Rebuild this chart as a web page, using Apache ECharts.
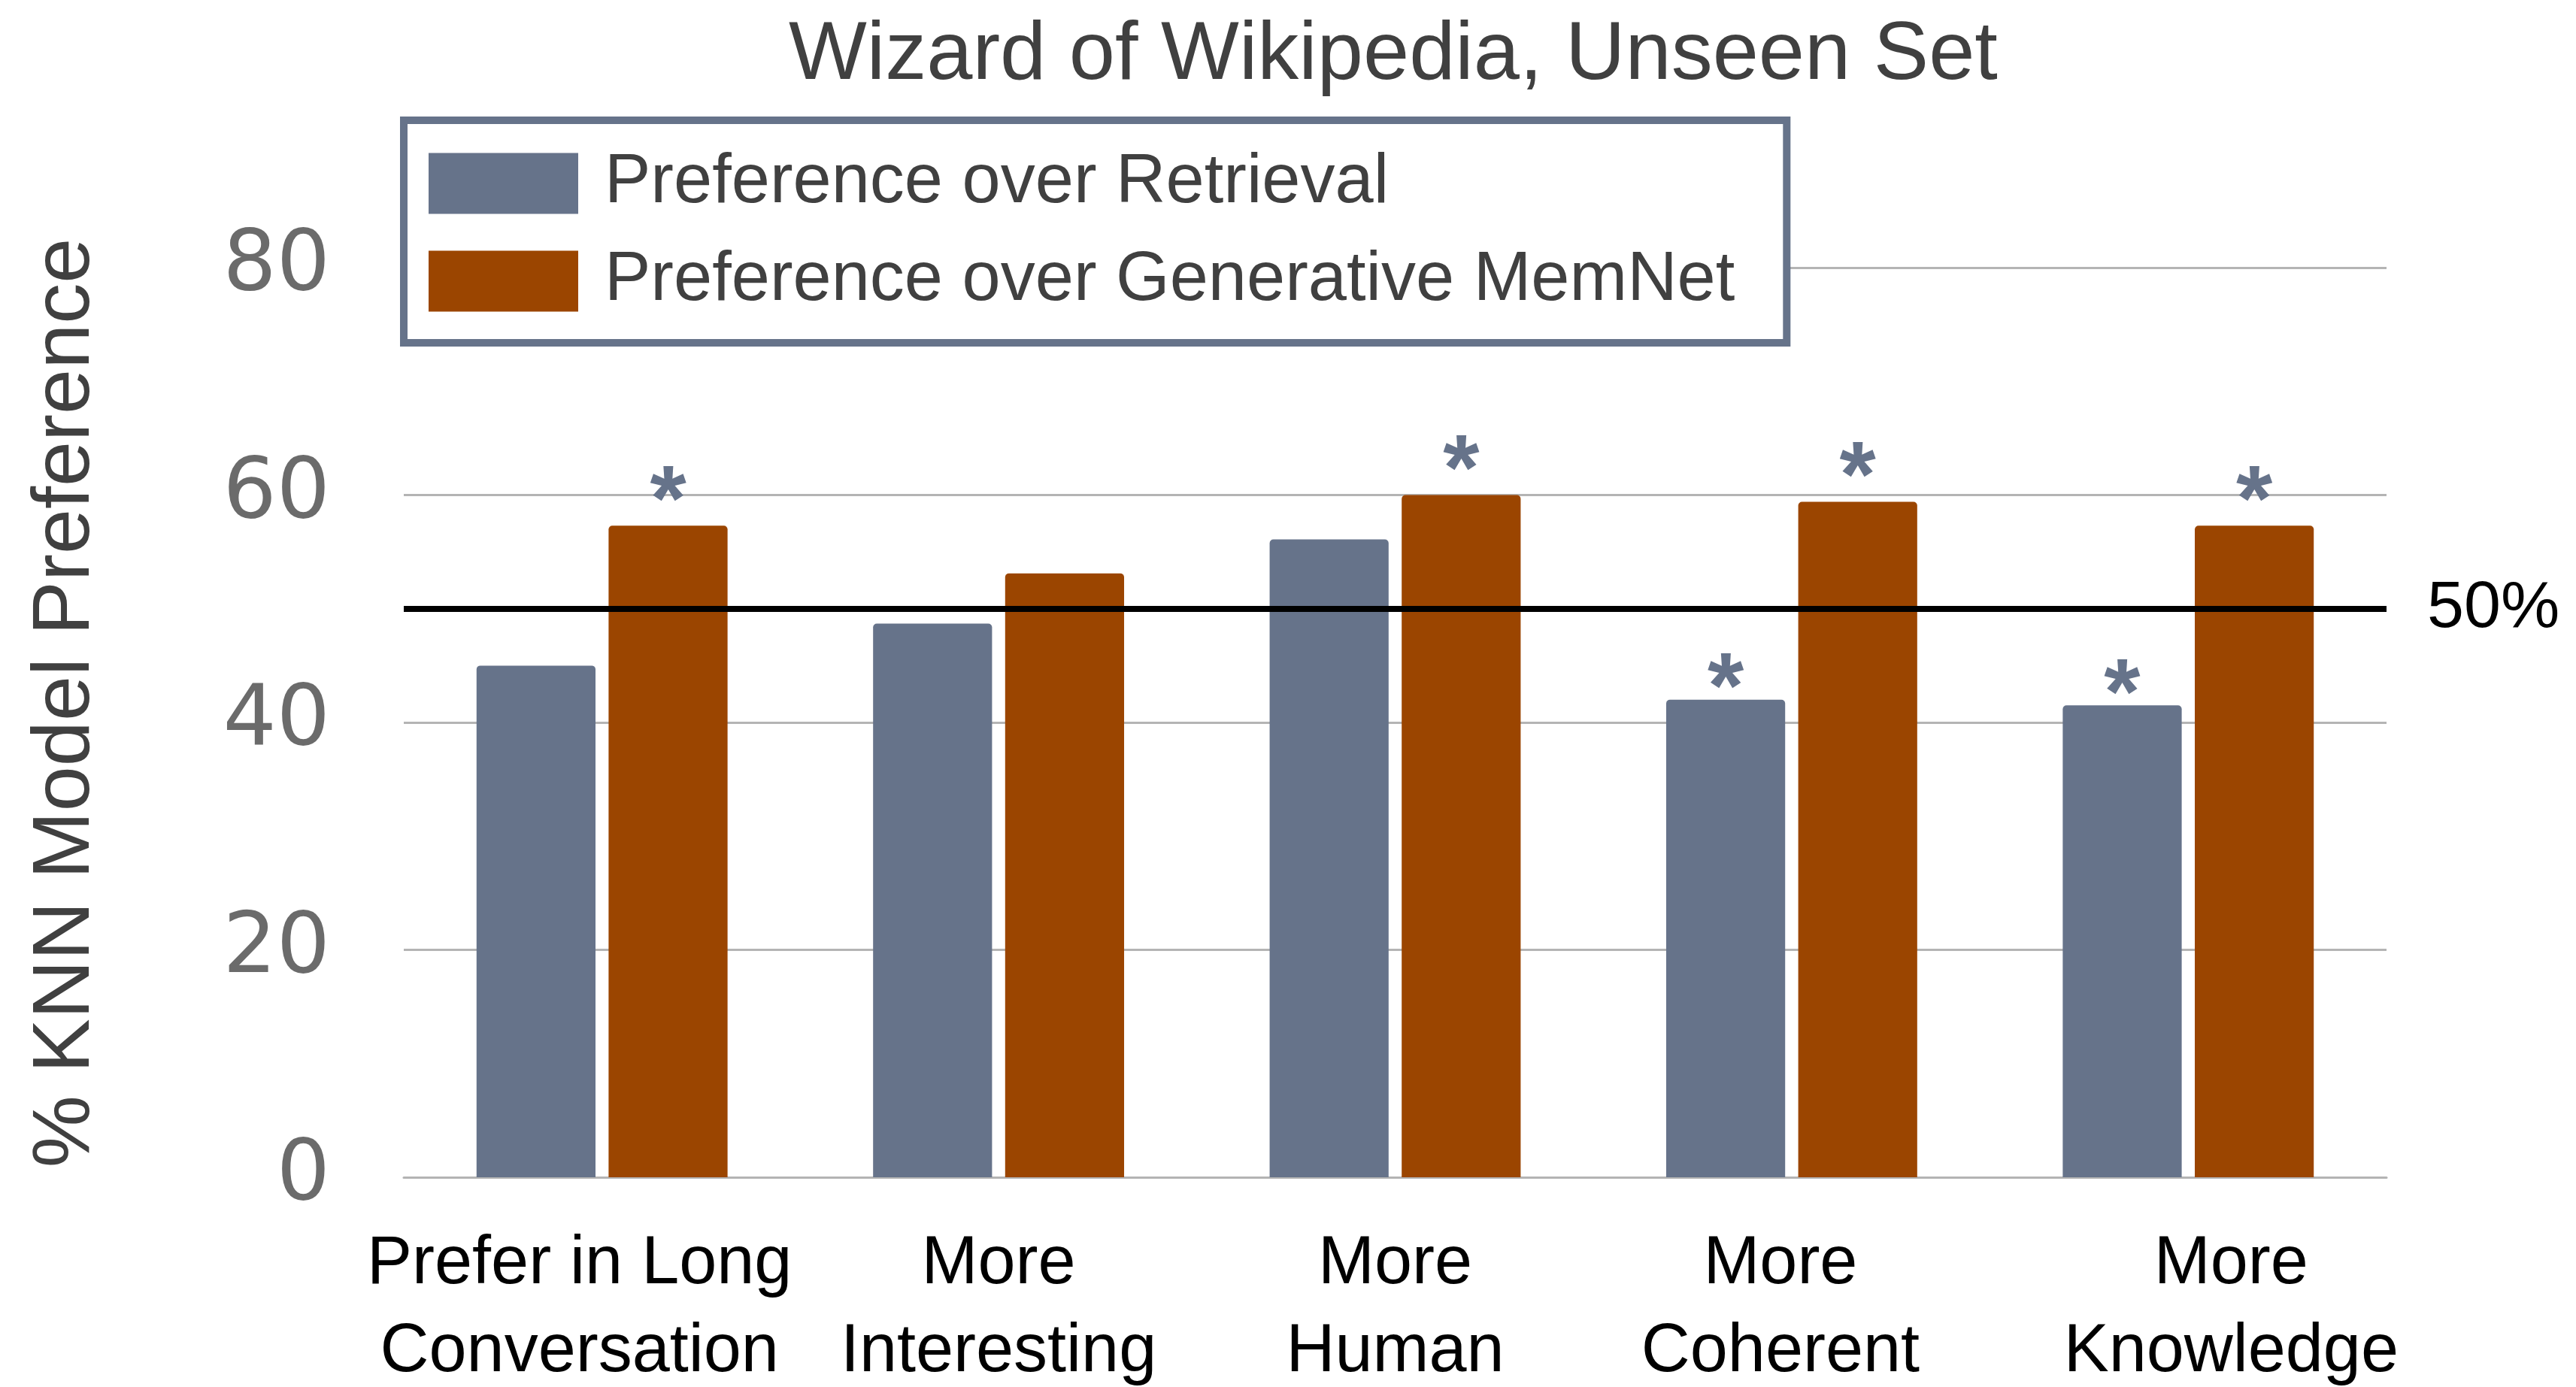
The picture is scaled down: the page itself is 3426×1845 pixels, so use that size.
<!DOCTYPE html>
<html>
<head>
<meta charset="utf-8">
<script src="https://cdn.jsdelivr.net/npm/echarts@6/dist/echarts.min.js"></script>
<style>
html,body{margin:0;padding:0;background:#fff;}
#chart{width:3426px;height:1845px;}
</style>
</head>
<body>
<div id="chart"></div>
<script>
const categories = ['Prefer in Long\nConversation', 'More\nInteresting', 'More\nHuman', 'More\nCoherent', 'More\nKnowledge'];
const retrievalValues = [45.0, 48.7, 56.1, 42.0, 41.5];
const memnetValues = [57.3, 53.1, 60.0, 59.4, 57.3];
const retrievalSignificant = [false, false, false, true, true];
const memnetSignificant = [true, false, true, true, true];
const yTicks = [0, 20, 40, 60, 80];
const referenceLevel = 50;
const seriesNames = ['Preference over Retrieval', 'Preference over Generative MemNet'];

// layout: horizontal nudge of each category label (px), as in the original figure
const labelNudge = [-30, 0, 0, -15, 57];

const FONT = '"Liberation Sans", Arial, sans-serif';
const SLATE = '#66738A';
const RUST = '#9B4500';

function withStars(values, flags) {
  return values.map((v, i) => ({
    value: v,
    label: { show: flags[i] }
  }));
}

const categoryData = categories.map((c, i) => {
  const s = labelNudge[i];
  const pad = s >= 0 ? [0, 0, 0, 2 * s] : [0, -2 * s, 0, 0];
  return { value: c, textStyle: { padding: pad } };
});

const chart = echarts.init(document.getElementById('chart'), null, { renderer: 'canvas' });
const starLabel = (dist) => ({
  show: false,
  position: 'top',
  distance: dist,
  formatter: '*',
  fontFamily: FONT,
  fontSize: 124,
  fontWeight: 'bold',
  color: SLATE
});

chart.setOption({
  backgroundColor: '#ffffff',
  animation: false,
  title: {
    text: 'Wizard of Wikipedia, Unseen Set',
    left: 1049,
    top: 20,
    padding: 0,
    textStyle: { fontFamily: FONT, fontSize: 110, fontWeight: 'normal', color: '#404040' }
  },
  legend: {
    orient: 'vertical',
    left: 537,
    top: 160,
    padding: [38, 69, 36, 33],
    borderColor: SLATE,
    borderWidth: 10,
    backgroundColor: '#ffffff',
    itemWidth: 199,
    itemHeight: 81,
    itemGap: 38,
    icon: 'rect',
    textStyle: { fontFamily: FONT, fontSize: 92, color: '#404040', padding: [0, 0, 0, 30], lineHeight: 92 },
    data: seriesNames
  },
  grid: { left: 537, right: 252, top: 356, bottom: 279, containLabel: false, outerBoundsMode: 'none' },
  xAxis: {
    type: 'category',
    data: categoryData,
    axisLine: { show: true, lineStyle: { color: '#B4B4B4', width: 3 } },
    axisTick: { show: false },
    axisLabel: {
      margin: 58,
      fontFamily: FONT,
      fontSize: 90,
      lineHeight: 117,
      color: '#000000',
      interval: 0
    }
  },
  yAxis: {
    type: 'value',
    min: yTicks[0],
    max: yTicks[yTicks.length - 1],
    interval: 20,
    name: '% KNN Model Preference',
    nameLocation: 'middle',
    nameGap: 395,
    nameTextStyle: { fontFamily: FONT, fontSize: 108, color: '#404040', padding: [0, 0, 0, 52] },
    axisLine: { show: false },
    axisTick: { show: false },
    axisLabel: { margin: 98, fontFamily: '"DejaVu Sans", sans-serif', fontSize: 112, color: '#6B6B6B' },
    splitLine: { show: true, lineStyle: { color: '#B4B4B4', width: 3 } }
  },
  series: [
    {
      name: seriesNames[0],
      type: 'bar',
      data: withStars(retrievalValues, retrievalSignificant),
      barWidth: '30%',
      barGap: '11%',
      itemStyle: { color: SLATE, borderRadius: [5, 5, 0, 0] },
      label: starLabel(-52)
    },
    {
      name: seriesNames[1],
      type: 'bar',
      data: withStars(memnetValues, memnetSignificant),
      barWidth: '30%',
      barGap: '11%',
      itemStyle: { color: RUST, borderRadius: [5, 5, 0, 0] },
      label: starLabel(-34),
      markLine: {
        silent: true,
        symbol: 'none',
        lineStyle: { color: '#000000', width: 8, type: 'solid' },
        label: { show: true, position: 'end', formatter: '50%', distance: 54, fontFamily: FONT, fontSize: 88, color: '#000000' },
        data: [{ yAxis: referenceLevel }]
      }
    }
  ]
});
</script>
</body>
</html>
